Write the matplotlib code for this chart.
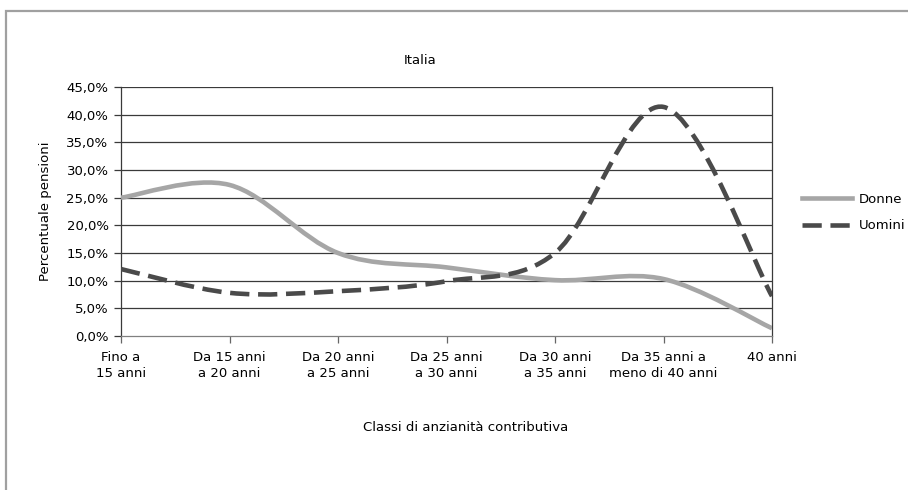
import numpy as np
import matplotlib
matplotlib.use("Agg")
import matplotlib.pyplot as plt
from matplotlib.path import Path
from matplotlib.patches import PathPatch, Rectangle
from matplotlib.lines import Line2D
from matplotlib.ticker import FuncFormatter

plt.rcParams['font.family'] = ['Liberation Sans Narrow', 'DejaVu Sans Condensed', 'DejaVu Sans']

categorie = ["Fino a\n15 anni", "Da 15 anni\na 20 anni", "Da 20 anni\na 25 anni",
             "Da 25 anni\na 30 anni", "Da 30 anni\na 35 anni", "Da 35 anni a\nmeno di 40 anni",
             "40 anni"]
donne = [25.0, 27.3, 15.0, 12.4, 10.1, 10.3, 1.4]
uomini = [12.1, 7.8, 8.1, 9.9, 15.0, 41.4, 7.2]
y_ticks = [0, 5, 10, 15, 20, 25, 30, 35, 40, 45]


def smooth_path(values):
    # bezier segments through each point, Excel-style smoothing (catmull-rom, 1/6)
    pts = np.column_stack([np.arange(len(values)), values]).astype(float)
    verts = [pts[0]]
    codes = [Path.MOVETO]
    n = len(pts)
    for i in range(n - 1):
        p0 = pts[max(i - 1, 0)]
        p1 = pts[i]
        p2 = pts[i + 1]
        p3 = pts[min(i + 2, n - 1)]
        c1 = p1 + (p2 - p0) / 6.0
        c2 = p2 - (p3 - p1) / 6.0
        verts += [c1, c2, p2]
        codes += [Path.CURVE4] * 3
    return Path(verts, codes)


fig = plt.figure(figsize=(9.08, 4.90), dpi=100)
ax = fig.add_axes([121 / 908, 1 - 336 / 490, (772 - 121) / 908, (336 - 87) / 490])

# outer frame
fig.patches.append(Rectangle((5.5 / 908, -0.05), 1.0, 1 - 11 / 490 + 0.05, transform=fig.transFigure,
                             fill=False, edgecolor='#a0a0a0', linewidth=1.6))

for t in y_ticks[1:]:
    ax.axhline(t, color='#3a3a3a', linewidth=0.9, zorder=1)

ax.add_patch(PathPatch(smooth_path(donne), facecolor='none', edgecolor='#a6a6a6',
                       linewidth=3.3, capstyle='butt', zorder=3))
ax.add_patch(PathPatch(smooth_path(uomini), facecolor='none', edgecolor='#4a4a4a',
                       linewidth=3.3, linestyle=(0, (4.2, 1.9)), capstyle='butt', zorder=4))

ax.set_xlim(0, len(categorie) - 1)
ax.set_ylim(0, 45)
ax.set_yticks(y_ticks)
ax.yaxis.set_major_formatter(FuncFormatter(lambda v, p: f"{v:.1f}%".replace('.', ',')))
ax.set_xticks(range(len(categorie)))
ax.set_xticklabels(categorie, fontsize=9.5, linespacing=1.25)
ax.tick_params(axis='y', labelsize=9.5, length=5, width=0.9, color='#3a3a3a', pad=4)
ax.tick_params(axis='x', length=5, width=0.9, color='#666666', pad=6)

ax.spines['top'].set_visible(False)
ax.spines['left'].set_color('#3a3a3a')
ax.spines['right'].set_color('#3a3a3a')
ax.spines['bottom'].set_color('#808080')
for s in ax.spines.values():
    s.set_linewidth(0.9)

ax.set_ylabel("Percentuale pensioni", fontsize=9.5, labelpad=10)
fig.text(466 / 908, 1 - 427 / 490, "Classi di anzianità contributiva", ha='center', va='center',
         fontsize=9.5)
fig.text(420 / 908, 1 - 60 / 490, "Italia", ha='center', va='center', fontsize=9.5)

handles = [Line2D([], [], color='#a6a6a6', linewidth=3.3),
           Line2D([], [], color='#4a4a4a', linewidth=3.3, linestyle=(0, (4.2, 1.9)))]
fig.legend(handles, ["Donne", "Uomini"], loc='center left',
           bbox_to_anchor=(790 / 908, 1 - 212.5 / 490), frameon=False, fontsize=9.5,
           handlelength=3.8, handletextpad=0.5, labelspacing=1.05)

fig.savefig("out.png", dpi=100)
